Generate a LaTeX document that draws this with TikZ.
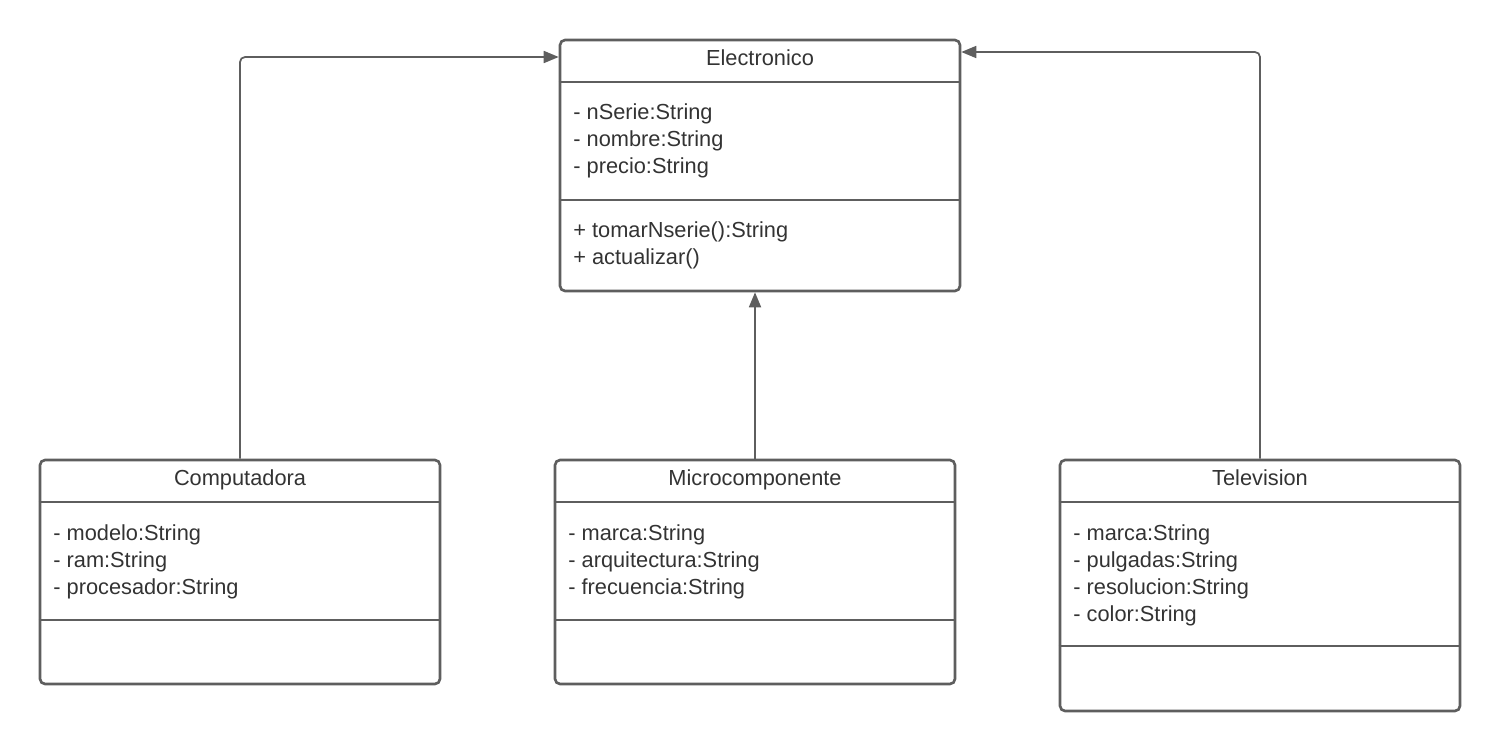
\documentclass[tikz,border=0pt]{standalone}
\usepackage{fontspec}
\setmainfont{Liberation Sans}
\usetikzlibrary{arrows.meta,positioning}
\definecolor{umlgray}{HTML}{5E5E5E}
\definecolor{umltext}{HTML}{333333}
\tikzset{class box/.style={draw=umlgray, line width=1.5pt, rounded corners=0.1cm,
    minimum width=8cm, inner sep=0pt}}
\tikzset{class divider/.style={draw=umlgray, line width=1.5pt}}
\tikzset{class title/.style={anchor=base, inner sep=0pt, text=umltext,
    font=\fontsize{12.4}{15}\selectfont}}
\tikzset{member/.style={anchor=base west, inner sep=0pt, text=umltext,
    font=\fontsize{12.4}{15}\selectfont}}
\tikzset{inherit edge/.style={draw=umlgray, line width=1pt, rounded corners=0.1cm,
    -{Triangle[length=0.3cm,width=0.24cm]}}}

\begin{document}
\begin{tikzpicture}
      [x=0.02cm, y=-0.02cm]
      \useasboundingbox (0,0) rectangle (1500,751);

      % superclass
      \node [class box, minimum height=5.02cm] (elec) at (760,165.5) {};
      \node [class title] (elec title) at (760,65) {Electronico};
      \draw [class divider] (elec.west |- 0,82)  -- (elec.east |- 0,82);
      \draw [class divider] (elec.west |- 0,200) -- (elec.east |- 0,200);
      \foreach \txt [count=\i] in {- nSerie:String, - nombre:String, - precio:String}
        \node [member] at (573, 92+27*\i) {\txt};
      \foreach \txt [count=\i] in {+ tomarNserie():String, + actualizar()}
        \node [member] at (573, 210+27*\i) {\txt};

      % subclasses
      \node [class box, minimum height=4.48cm] (comp) at (240,572) {};
      \node [class title] (comp title) at (240,485) {Computadora};
      \draw [class divider] (comp.west |- 0,502) -- (comp.east |- 0,502);
      \draw [class divider] (comp.west |- 0,620) -- (comp.east |- 0,620);
      \foreach \txt [count=\i] in {- modelo:String, - ram:String, - procesador:String}
        \node [member] at (53, 513+27*\i) {\txt};

      \node [class box, minimum height=4.48cm] (micro) at (755,572) {};
      \node [class title] (micro title) at (755,485) {Microcomponente};
      \draw [class divider] (micro.west |- 0,502) -- (micro.east |- 0,502);
      \draw [class divider] (micro.west |- 0,620) -- (micro.east |- 0,620);
      \foreach \txt [count=\i] in {- marca:String, - arquitectura:String, - frecuencia:String}
        \node [member] at (568, 513+27*\i) {\txt};

      \node [class box, minimum height=5.02cm] (tele) at (1260,585.5) {};
      \node [class title] (tele title) at (1260,485) {Television};
      \draw [class divider] (tele.west |- 0,502) -- (tele.east |- 0,502);
      \draw [class divider] (tele.west |- 0,646) -- (tele.east |- 0,646);
      \foreach \txt [count=\i] in {- marca:String, - pulgadas:String, - resolucion:String, - color:String}
        \node [member] at (1073, 513+27*\i) {\txt};

      % inheritance
      \coordinate (elec left)  at (elec.west |- 0,57);
      \coordinate (elec right) at (elec.east |- 0,52);
      \draw [inherit edge] (comp.north) |- (elec left);
      \draw [inherit edge] (micro.north) -- (micro.north |- elec.south);
      \draw [inherit edge] (tele.north) |- (elec right);
    \end{tikzpicture}
\end{document}
